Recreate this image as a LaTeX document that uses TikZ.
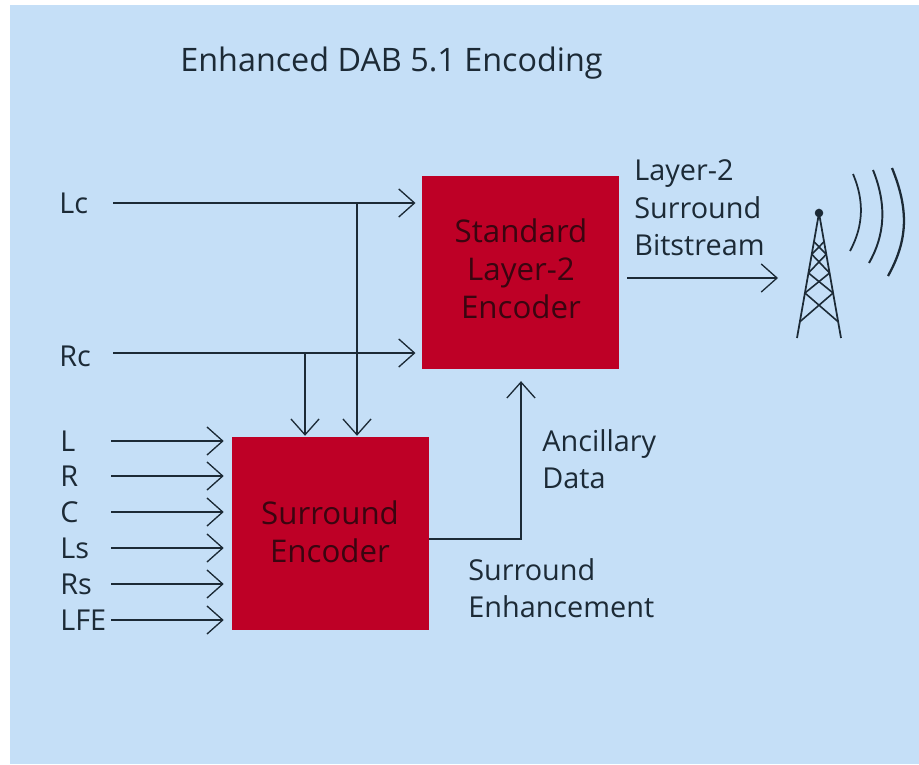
\documentclass[tikz,border=0pt]{standalone}
\usepackage{fontspec}
\setmainfont{Open Sans}
\usetikzlibrary{arrows.meta,calc}

\def \lineSize {0.75pt}
\definecolor{panelBlue}{HTML}{C5DFF7}
\definecolor{boxRed}{HTML}{BE0026}
\definecolor{inkDark}{HTML}{1C2A36}
\definecolor{inkRed}{HTML}{3A0510}

\tikzset{
   sig/.style={draw=inkDark, line width=\lineSize, -{Straight Barb[length=9pt,width=16pt,line width=\lineSize]}, shorten >=3.5pt},
   lab/.style={text=inkDark, font=\fontsize{16.4}{21.3}\selectfont, anchor=west, align=left, inner sep=0pt},
   encbox/.style={fill=boxRed, minimum width=197*0.02cm, minimum height=193*0.02cm, inner sep=0pt},
   enctxt/.style={text=inkRed, align=center, inner sep=0pt, font=\fontsize{17.8}{21.5}\selectfont}
}

\begin{document}
\begin{tikzpicture}[x=0.02cm,y=-0.02cm]
         \useasboundingbox (0,0) rectangle (919,764);
         \fill[panelBlue] (10,5) rectangle (919,764);

         \node[lab, font=\fontsize{18.4}{21}\selectfont] (title) at (180,63) {Enhanced DAB 5.1 Encoding};

         \node[encbox] (stdEnc) at (520.5,272) {};
         \node[encbox] (surEnc) at (330.5,533.5) {};
         \node[enctxt] (stdTxt) at (521,269) {Standard\\Layer-2\\Encoder};
         \node[enctxt] (surTxt) at (330,532) {Surround\\Encoder};

         % left inputs
         \node[lab] (lc) at (59,203) {Lc};
         \node[lab] (rc) at (59,356) {Rc};
         \foreach \name/\y/\txt in {l/441/L, r/476/R, c/512/C, ls/548/Ls, rs/584/Rs, lfe/620/LFE} {
            \node[lab] (\name) at (60,\y) {\txt};
            \coordinate (\name In) at (111,\y);
            \draw[sig, shorten >=4.5pt] (\name In) -- (\name In -| surEnc.west);
         }

         \coordinate (lcIn) at (113,203);
         \coordinate (rcIn) at (113,353);
         \draw[sig] (lcIn) -- (lcIn -| stdEnc.west);
         \draw[sig] (rcIn) -- (rcIn -| stdEnc.west);
         \coordinate (lcTap) at (357,203);
         \coordinate (rcTap) at (305,353);
         \draw[sig, shorten >=0.5pt] (lcTap) -- (lcTap |- surEnc.north);
         \draw[sig, shorten >=0.5pt] (rcTap) -- (rcTap |- surEnc.north);

         % ancillary data path
         \coordinate (ancOut) at (surEnc.east |- 0,539);
         \coordinate (ancUp) at (521,539);
         \draw[sig, shorten >=7pt] (ancOut) -- (ancUp) -- (ancUp |- stdEnc.south);
         \node[lab] (anc) at (542,459) {Ancillary\\Data};
         \node[lab] (enh) at (468,588) {Surround\\Enhancement};

         % output
         \node[lab] (bits) at (634,208) {Layer-2\\Surround\\Bitstream};
         \coordinate (outStart) at (627,278);
         \coordinate (outEnd) at (778,278);
         \draw[sig, shorten >=0pt] (outStart) -- (outEnd);

         % mast
         \coordinate (top) at (819,213);
         \coordinate (legL) at (797,338);
         \coordinate (legR) at (841,338);
         \filldraw[inkDark] (top) circle (2.2pt);
         \draw[inkDark, line width=1pt] (legL) -- (top) -- (legR);
         \foreach \a/\b in {.23/.33, .33/.48, .48/.64, .64/.87} {
            \draw[inkDark, line width=0.9pt] ($(top)!\a!(legL)$) -- ($(top)!\b!(legR)$);
            \draw[inkDark, line width=0.9pt] ($(top)!\a!(legR)$) -- ($(top)!\b!(legL)$);
         }
         \draw[inkDark, line width=1pt] (853,174) .. controls (864,200) and (864,225) .. (850,251);
         \draw[inkDark, line width=1.1pt] (873,170) .. controls (887,205) and (885,235) .. (869,263);
         \draw[inkDark, line width=1.3pt] (892,168) .. controls (909,210) and (908,240) .. (888,276);
      \end{tikzpicture}
\end{document}
